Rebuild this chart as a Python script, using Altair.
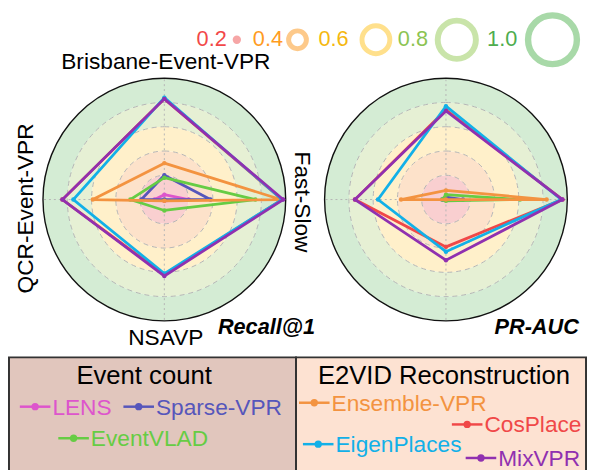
import math
import altair as alt
import pandas as pd

FONT = "Liberation Sans"

# ---------------- data ----------------
axis_names = ["Brisbane-Event-VPR", "Fast-Slow", "NSAVP", "QCR-Event-VPR"]
methods = ["LENS", "Sparse-VPR", "EventVLAD", "Ensemble-VPR", "CosPlace", "EigenPlaces", "MixVPR"]
method_colors = ["#dd55cc", "#5656bb", "#66cc44", "#f39340", "#f04848", "#12b0e8", "#9030b0"]

# Recall@1, order of axis_names
recall_lens = [0.04, 0.20, 0.01, 0.08]
recall_sparse = [0.20, 0.38, 0.00, 0.19]
recall_eventvlad = [0.18, 0.75, 0.09, 0.28]
recall_ensemble = [0.30, 0.96, 0.01, 0.59]
recall_cosplace = [0.83, 0.97, 0.62, 0.84]
recall_eigen = [0.84, 0.97, 0.61, 0.75]
recall_mixvpr = [0.83, 0.98, 0.63, 0.84]

# PR-AUC
prauc_lens = [0.02, 0.06, 0.00, 0.02]
prauc_sparse = [0.02, 0.14, 0.00, 0.03]
prauc_eventvlad = [0.04, 0.61, 0.01, 0.03]
prauc_ensemble = [0.075, 0.83, 0.00, 0.37]
prauc_cosplace = [0.74, 0.96, 0.39, 0.75]
prauc_eigen = [0.77, 0.95, 0.43, 0.56]
prauc_mixvpr = [0.73, 0.96, 0.50, 0.75]

recall_lists = [recall_lens, recall_sparse, recall_eventvlad, recall_ensemble,
                recall_cosplace, recall_eigen, recall_mixvpr]
prauc_lists = [prauc_lens, prauc_sparse, prauc_eventvlad, prauc_ensemble,
               prauc_cosplace, prauc_eigen, prauc_mixvpr]

band_names = ["0.2", "0.4", "0.6", "0.8", "1.0"]
band_inner = [0.0, 0.2, 0.4, 0.6, 0.8]
band_outer = [0.2, 0.4, 0.6, 0.8, 1.0]
band_fill = ["#f9cfd0", "#fde2ca", "#fff0ca", "#e6f0d4", "#d4ecd4"]
grid_levels = [0.2, 0.4, 0.6, 0.8]

size_values = [0.2, 0.4, 0.6, 0.8, 1.0]
size_text_colors = ["#f24848", "#ff9c1f", "#f5b80f", "#8cc452", "#4ead4e"]
size_ring_colors = ["#f6a6a6", "#fdc98a", "#ffe08c", "#c9e4a9", "#a8d9a8"]

# ---------------- helpers ----------------
TWO_PI = 2 * math.pi


def long_df(lists):
    rows = []
    for m, vals in zip(methods, lists):
        for i, v in enumerate(vals):
            rows.append({"method": m, "idx": i, "value": v})
    return pd.DataFrame(rows)


def radar_layers(lists, cx, cy, R):
    xs = alt.Scale(domain=[-1, 1], range=[cx - R, cx + R], nice=False, zero=False)
    ys = alt.Scale(domain=[-1, 1], range=[cy + R, cy - R], nice=False, zero=False)
    rs = alt.Scale(type="linear", domain=[0, 1], range=[0, R], zero=True, nice=False)
    layers = []
    bands = pd.DataFrame({"band": band_names, "inner": band_inner, "outer": band_outer})
    layers.append(
        alt.Chart(bands).mark_arc(theta=0, theta2=TWO_PI, strokeWidth=0)
        .transform_calculate(c="0")
        .encode(
            x=alt.X("c:Q", scale=xs, axis=None),
            y=alt.Y("c:Q", scale=ys, axis=None),
            radius=alt.Radius("outer:Q", scale=rs, stack=None),
            radius2="inner:Q",
            fill=alt.Fill("band:N", scale=alt.Scale(domain=band_names, range=band_fill), legend=None),
        )
    )
    layers.append(
        alt.Chart(pd.DataFrame({"r": grid_levels})).mark_arc(
            theta=0, theta2=TWO_PI, fill="transparent", stroke="#b5b5b5",
            strokeWidth=1, strokeDash=[5, 4])
        .transform_calculate(c="0")
        .encode(
            x=alt.X("c:Q", scale=xs, axis=None),
            y=alt.Y("c:Q", scale=ys, axis=None),
            radius=alt.Radius("r:Q", scale=rs, stack=None),
        )
    )
    spokes = pd.DataFrame({"axis": axis_names, "idx": list(range(len(axis_names)))})
    layers.append(
        alt.Chart(spokes).mark_rule(color="#b5b5b5", strokeWidth=1, strokeDash=[2, 3])
        .transform_calculate(c="0", ex="sin(datum.idx*PI/2)", ey="cos(datum.idx*PI/2)")
        .encode(
            x=alt.X("c:Q", scale=xs, axis=None),
            y=alt.Y("c:Q", scale=ys, axis=None),
            x2="ex:Q",
            y2="ey:Q",
        )
    )
    layers.append(
        alt.Chart(pd.DataFrame({"r": [1.0]})).mark_arc(
            theta=0, theta2=TWO_PI, fill="transparent", stroke="#111111", strokeWidth=1.4)
        .transform_calculate(c="0")
        .encode(
            x=alt.X("c:Q", scale=xs, axis=None),
            y=alt.Y("c:Q", scale=ys, axis=None),
            radius=alt.Radius("r:Q", scale=rs, stack=None),
        )
    )
    df = long_df(lists)
    cscale = alt.Scale(domain=methods, range=method_colors)
    for m in methods:
        base = (
            alt.Chart(df[df.method == m])
            .transform_calculate(px="datum.value*sin(datum.idx*PI/2)",
                                 py="datum.value*cos(datum.idx*PI/2)")
        )
        enc = dict(
            x=alt.X("px:Q", scale=xs, axis=None),
            y=alt.Y("py:Q", scale=ys, axis=None),
            color=alt.Color("method:N", scale=cscale, legend=None),
        )
        layers.append(base.mark_line(interpolate="linear-closed", strokeWidth=2.8)
                      .encode(order=alt.Order("idx:Q"), **enc))
        layers.append(base.mark_circle(size=20, opacity=1).encode(**enc))
    return layers


def text_layer(txt, x, y, size=23, color="#000000", angle=0, align="center",
               baseline="alphabetic", weight="normal", style="normal"):
    return alt.Chart(pd.DataFrame({"t": [txt]})).mark_text(
        font=FONT, fontSize=size, color=color, angle=angle, align=align,
        baseline=baseline, fontWeight=weight, fontStyle=style
    ).encode(x=alt.value(x), y=alt.value(y), text="t:N")


def legend_item(name, x0, y):
    color = method_colors[methods.index(name)]
    d = pd.DataFrame({"method": [name]})
    line = alt.Chart(d).mark_rule(color=color, strokeWidth=2.5).encode(
        x=alt.value(x0), x2=alt.value(x0 + 31), y=alt.value(y))
    dot = alt.Chart(d).mark_circle(color=color, size=55, opacity=1).encode(
        x=alt.value(x0 + 15.5), y=alt.value(y))
    txt = alt.Chart(d).mark_text(font=FONT, fontSize=23, color=color, align="left",
                                 baseline="alphabetic").encode(
        x=alt.value(x0 + 33), y=alt.value(y + 8), text="method:N")
    return [line, dot, txt]


def size_item(i, tx, cx, y):
    v = size_values[i]
    d = pd.DataFrame({"v": [v], "t": [f"{v:.1f}"]})
    txt = alt.Chart(d).mark_text(font=FONT, fontSize=22, color=size_text_colors[i],
                                 align="center", baseline="alphabetic").encode(
        x=alt.value(tx), y=alt.value(y + 8), text="t:N")
    filled = (i == 0)
    sw = [4, 5, 5, 6, 6.5][i]
    ring = alt.Chart(d).mark_point(shape="circle", filled=filled, opacity=1,
                                   strokeWidth=sw, color=size_ring_colors[i]).encode(
        x=alt.value(cx), y=alt.value(y + 2),
        size=alt.Size("v:Q", scale=alt.Scale(type="pow", exponent=2.2, domain=[0, 1],
                                             range=[0, 2450]), legend=None))
    return [txt, ring]


# ---------------- compose ----------------
R = 123
layers = []
layers += radar_layers(recall_lists, 158.5, 191, R)
layers += radar_layers(prauc_lists, 444, 191, R)

# axis labels
layers.append(text_layer(axis_names[0], 160, 59))
layers.append(text_layer(axis_names[1], 291, 193.5, angle=90))
layers.append(text_layer(axis_names[2], 160, 338))
layers.append(text_layer(axis_names[3], 25, 200, angle=270))
layers.append(text_layer("Recall@1", 262, 327, size=22, weight="bold", style="italic"))
layers.append(text_layer("PR-AUC", 536, 327, size=22, weight="bold", style="italic"))

# size legend on top
pos = [(206.5, 232), (263.5, 293.5), (330, 373), (410.5, 455), (501, 552)]
for i, (tx, cx) in enumerate(pos):
    layers += size_item(i, tx, cx, 27)

# bottom legend boxes
box = pd.DataFrame({"group": ["Event count", "E2VID Reconstruction"]})
layers.append(alt.Chart(box.iloc[[0]]).mark_rect(fill="#e1c6bd", stroke="#333333", strokeWidth=2)
              .encode(x=alt.value(1), x2=alt.value(292), y=alt.value(351), y2=alt.value(480)))
layers.append(alt.Chart(box.iloc[[1]]).mark_rect(fill="#fde2d2", stroke="#333333", strokeWidth=2)
              .encode(x=alt.value(292), x2=alt.value(586), y=alt.value(351), y2=alt.value(480)))
layers.append(text_layer("Event count", 138, 378, size=26))
layers.append(text_layer("E2VID Reconstruction", 442, 378, size=26))
layers += legend_item("LENS", 12, 401)
layers += legend_item("Sparse-VPR", 117, 401)
layers += legend_item("EventVLAD", 51, 433)
layers += legend_item("Ensemble-VPR", 295, 397)
layers += legend_item("CosPlace", 450, 419)
layers += legend_item("EigenPlaces", 299, 439)
layers += legend_item("MixVPR", 464, 453)

chart = (
    alt.layer(*layers)
    .resolve_scale(x="independent", y="independent", radius="independent",
                   fill="independent", color="independent", size="independent")
    .properties(width=587, height=462, padding=0,
                autosize=alt.AutoSizeParams(type="none"))
    .configure_view(strokeOpacity=0)
)

chart.save("out.html", embed_options={"renderer": "svg", "actions": False})
